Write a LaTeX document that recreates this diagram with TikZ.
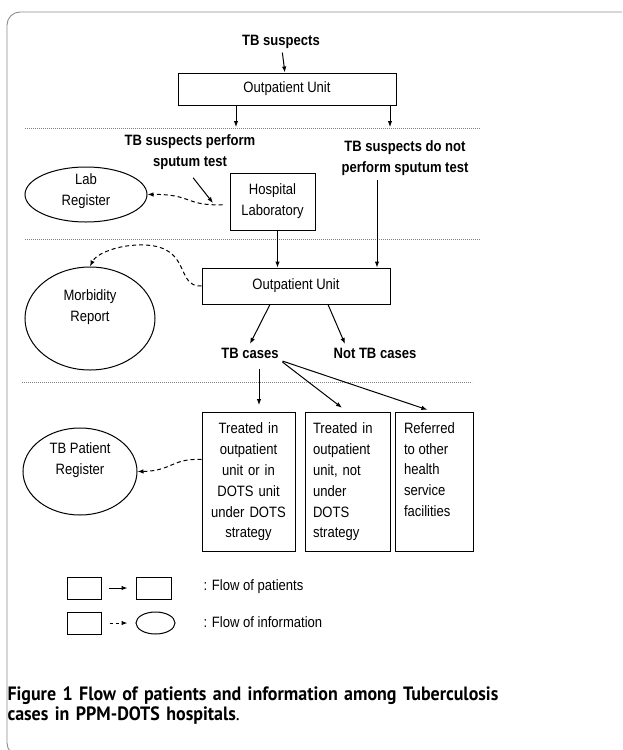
\documentclass[tikz,border=0pt]{standalone}
\usepackage{fontspec}
\setmainfont{Liberation Sans}[FakeStretch=0.87]
\newfontfamily\capfont{PT Sans}[FakeStretch=0.93]
\usetikzlibrary{arrows.meta,shapes.geometric}

\begin{document}
\begin{tikzpicture}[x=1pt,y=-1pt,line width=1pt,>={Latex[length=6pt,width=4.5pt]},
  box/.style={draw,line width=1pt,inner sep=0pt,font=\fontsize{15}{20.8}\selectfont},
  oval/.style={draw,ellipse,line width=1pt,inner sep=0pt},
  ovaltext/.style={align=center,font=\fontsize{15}{20.8}\selectfont},
  lbl/.style={align=center,font=\bfseries\fontsize{15}{21}\selectfont},
  info/.style={->,dash pattern=on 4pt off 3pt},
  sep/.style={gray,line width=0.8pt,dash pattern=on 0.8pt off 1.2pt}]

\useasboundingbox (0,0) rectangle (622,750);
\clip (0,0) rectangle (622,750);
\draw[gray!90,line width=0.9pt,rounded corners=13] (7,12) rectangle (660,756);

\node[lbl] (sus) at (281,42) {TB suspects};
\node[box,minimum width=218,minimum height=32] (ou1) at (287,89) {Outpatient Unit};
\draw[->] (sus) -- (ou1);

\draw[sep] (25,128) -- (480,128);
\coordinate (d1a) at (236,127);
\coordinate (d1b) at (390,127);
\draw[->] (ou1.south -| d1a) -- (d1a);
\draw[->] (ou1.south -| d1b) -- (d1b);

\node[lbl] (perf) at (190,152.5) {TB suspects perform\\sputum test};
\node[lbl] (noperf) at (405,158.5) {TB suspects do not\\perform sputum test};
\node[box,minimum width=85,minimum height=57,align=center] (hlab) at (272.5,201.5) {Hospital\\Laboratory};
\node[oval,minimum width=122,minimum height=55,
  label={[ovaltext,yshift=3pt]center:Lab\\Register}] (labreg) at (86,194.5) {};
\coordinate (labin) at (213,203);
\draw[->,shorten <=5pt] (perf.south) -- (labin);
\draw[info,shorten <=7pt] ([yshift=-3pt]hlab.west) .. controls (185,206) and (192,194) .. (labreg.east);

\draw[sep] (25,239) -- (480,239);
\node[box,minimum width=188,minimum height=36] (ou2) at (296,286) {Outpatient Unit};
\draw[->] ([xshift=5pt]hlab.south) -- ([xshift=5pt]hlab.south |- ou2.north);
\draw[->] ([xshift=-28pt]noperf.south) -- ([xshift=-28pt]noperf.south |- ou2.north);
\node[oval,minimum width=130,minimum height=103,
  label={[ovaltext,yshift=11pt]center:Morbidity\\Report}] (morb) at (90,318.5) {};
\draw[info] (ou2.west) .. controls (175,287) and (192,247) .. (145,245)
  .. controls (118,244) and (96,254) .. (morb.north);

\node[lbl] (tbc) at (250,353) {TB cases};
\node[lbl] (ntb) at (375,353) {Not TB cases};
\draw[->] ([xshift=-26pt]ou2.south) -- (tbc.north);
\draw[->] ([xshift=32pt]ou2.south) -- ([xshift=-30pt]ntb.north);

\draw[sep] (22,382) -- (472,382);
\node[box,anchor=north,minimum width=93,minimum height=139,text width=85,align=center] (t1) at (248.5,412)
  {Treated in\\outpatient\\unit or in\\DOTS unit\\under DOTS\\strategy};
\node[box,anchor=north,minimum width=85,minimum height=139,text width=69,align=left] (t2) at (347.5,412)
  {Treated in\\outpatient\\unit, not\\under\\DOTS\\strategy};
\node[box,anchor=north,minimum width=78,minimum height=139] (t3) at (434,412)
  {\parbox[c][119pt][t]{60pt}{\raggedright Referred\\to other\\health\\service\\facilities}};
\draw[->,shorten <=7pt,shorten >=7pt] ([xshift=9pt]tbc.south) -- ([xshift=9pt]tbc.south |- t1.north);
\draw[->,shorten >=7pt] (tbc.south east) -- (t2.north);
\draw[->,shorten >=7pt] ([yshift=1pt]tbc.south east) -- (t3.north);

\node[oval,minimum width=114,minimum height=87,
  label={[ovaltext,yshift=11pt]center:TB Patient\\Register}] (tbr) at (80,471.5) {};
\draw[info] ([yshift=22.5pt]t1.west) .. controls (172,458) and (172,471) .. (tbr.east);

\node[box,minimum width=34,minimum height=22] (lp1) at (84,588) {};
\node[box,minimum width=35,minimum height=22] (lp2) at (153.5,588) {};
\draw[->,shorten <=7pt,shorten >=8pt] (lp1) -- (lp2);
\node[anchor=west,inner sep=0pt,font=\fontsize{15}{18}\selectfont] (lpt) at (203,587) {: Flow of patients};
\node[box,minimum width=34,minimum height=22] (li1) at (84,623) {};
\node[oval,minimum width=39,minimum height=22] (li2) at (155.5,623) {};
\draw[info,dash pattern=on 3pt off 3pt,shorten <=8pt,shorten >=8pt] (li1) -- (li2);
\node[anchor=west,inner sep=0pt,font=\fontsize{15}{18}\selectfont] (lit) at (203,622) {: Flow of information};

\node[anchor=base west,inner sep=0pt,text width=600,align=left,
  font=\capfont\bfseries\fontsize{19.3}{20}\selectfont] (cap) at (7,700.7)
  {Figure 1 Flow of patients and information among Tuberculosis\\cases in PPM-DOTS hospitals\textmd{.}};
\end{tikzpicture}
\end{document}
